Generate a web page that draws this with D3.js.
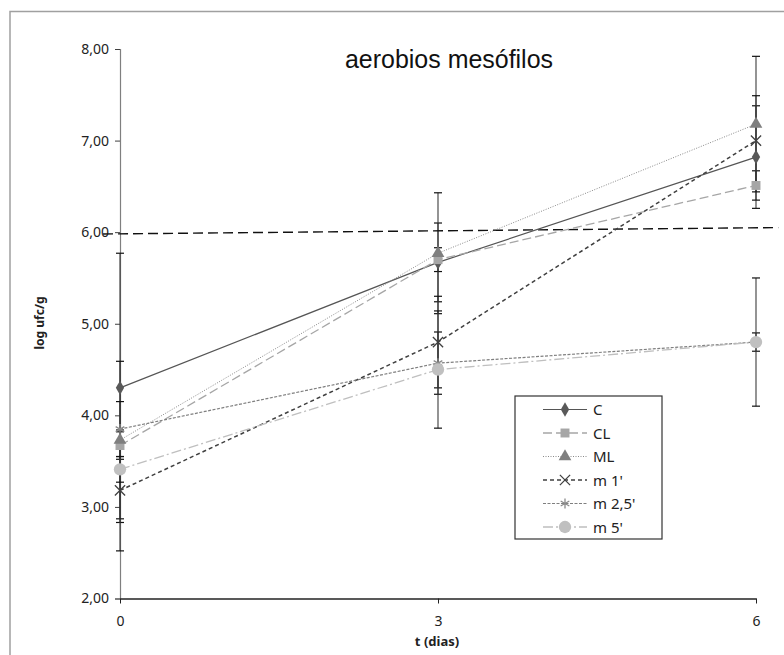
<!DOCTYPE html>
<html>
<head>
<meta charset="utf-8">
<script src="https://cdn.jsdelivr.net/npm/d3@7"></script>
<style>
  body { margin: 0; background: #fff; }
  svg { display: block; }
</style>
</head>
<body>
<script>
// days sampled
var days = [0, 3, 6]
var yTicks = [2, 3, 4, 5, 6, 7, 8]
var xTicks = [0, 3, 6]

// series means (log ufc/g) and error bar half-widths
var seriesNames = ["C", "CL", "ML", "m 1'", "m 2,5'", "m 5'"]
var valC   = [4.30, 5.67, 6.82]
var valCL  = [3.67, 5.70, 6.51]
var valML  = [3.73, 5.77, 7.18]
var valM1  = [3.18, 4.80, 7.00]
var valM25 = [3.85, 4.57, 4.80]
var valM5  = [3.41, 4.50, 4.80]

var errC   = [1.47, 0.43, 0.56]
var errCL  = [0.15, 0.13, 0.16]
var errML  = [0.86, 0.66, 0.74]
var errM1  = [0.66, 0.50, 0.49]
var errM25 = [0.30, 0.34, 0.10]
var errM5  = [0.14, 0.64, 0.70]

// the dashed reference line near 6 log
var refX = [-0.16, 6.21]
var refY = [5.98, 6.05]

var W = 784, H = 655

var svg = d3.select("body").append("svg")
    .attr("width", W)
    .attr("height", H)

// outer frame (right/bottom run off the picture)
svg.append("path")
    .attr("d", "M10,660 V11.5 H790")
    .attr("fill", "none")
    .attr("stroke", "#a0a0a0")
    .attr("stroke-width", 1.5)

var x = d3.scaleLinear().domain([0, 6]).range([120, 756])
var y = d3.scaleLinear().domain([2, 8]).range([598.5, 49])

var styles = [
  {name: seriesNames[0], v: valC,   e: errC,   stroke: "#555555", dash: null,      w: 1.2, mk: "diamond",  fill: "#595959", size: 60},
  {name: seriesNames[1], v: valCL,  e: errCL,  stroke: "#a6a6a6", dash: "9,4",     w: 1.3, mk: "square",   fill: "#a6a6a6", size: 80},
  {name: seriesNames[2], v: valML,  e: errML,  stroke: "#8a8a8a", dash: "1,1.5",   w: 1,   mk: "triangle", fill: "#7f7f7f", size: 70},
  {name: seriesNames[3], v: valM1,  e: errM1,  stroke: "#404040", dash: "4,3",     w: 1.5, mk: "x",        fill: "#404040", size: 70},
  {name: seriesNames[4], v: valM25, e: errM25, stroke: "#7f7f7f", dash: "3,1.5",   w: 1.2, mk: "star",     fill: "#8c8c8c", size: 70},
  {name: seriesNames[5], v: valM5,  e: errM5,  stroke: "#bfbfbf", dash: "10,3,2,3", w: 1.3, mk: "circle",  fill: "#c0c0c0", size: 120}
]

// y axis
var yAxis = svg.append("g")
    .attr("transform", "translate(120,0)")
    .call(d3.axisLeft(y).tickValues(yTicks).tickSize(5).tickPadding(6)
      .tickFormat(function(d) { return d3.format(".2f")(d).replace(".", ",") }))
yAxis.select(".domain").attr("stroke", "#7f7f7f").attr("stroke-width", 1.2)
yAxis.selectAll(".tick line").attr("stroke", "#404040")
yAxis.selectAll("text")
    .style("font-family", "'Noto Sans', sans-serif")
    .style("font-size", "14px")
    .attr("fill", "#222")

// error bars (drawn before the x axis so axis stays on top)
var errG = svg.append("g")
styles.forEach(function(s) {
  days.forEach(function(d, i) {
    var lo = y(s.v[i] - s.e[i]), hi = y(s.v[i] + s.e[i]), cx = x(d)
    errG.append("line").attr("x1", cx).attr("x2", cx).attr("y1", lo).attr("y2", hi)
        .attr("stroke", "#333").attr("stroke-width", 1.4).attr("stroke-opacity", 0.75)
    errG.append("line").attr("x1", cx - 4).attr("x2", cx + 4).attr("y1", lo).attr("y2", lo)
        .attr("stroke", "#111").attr("stroke-width", 1.2)
    errG.append("line").attr("x1", cx - 4).attr("x2", cx + 4).attr("y1", hi).attr("y2", hi)
        .attr("stroke", "#111").attr("stroke-width", 1.2)
  })
})

// x axis
var xAxis = svg.append("g")
    .attr("transform", "translate(0," + y(2) + ")")
    .call(d3.axisBottom(x).tickValues(xTicks).tickSize(5).tickPadding(13).tickSizeOuter(0)
      .tickFormat(d3.format("d")))
xAxis.select(".domain").attr("stroke", "#222").attr("stroke-width", 1.3)
xAxis.selectAll(".tick line").attr("stroke", "#222")
xAxis.selectAll("text")
    .style("font-family", "'Noto Sans', sans-serif")
    .style("font-size", "14px")
    .attr("fill", "#222")

// reference line
svg.append("line")
    .attr("x1", x(refX[0])).attr("x2", x(refX[1]))
    .attr("y1", y(refY[0])).attr("y2", y(refY[1]))
    .attr("stroke", "#111")
    .attr("stroke-width", 1.4)
    .attr("stroke-dasharray", "10,5")

var symbolFor = {
  diamond: d3.symbolDiamond, square: d3.symbolSquare, triangle: d3.symbolTriangle,
  x: d3.symbolTimes, star: d3.symbolAsterisk, circle: d3.symbolCircle
}

function drawMarker(g, s, cx, cy) {
  var crossy = (s.mk === "x" || s.mk === "star")
  g.append("path")
      .attr("transform", "translate(" + cx + "," + cy + ")")
      .attr("d", d3.symbol().type(symbolFor[s.mk]).size(s.size)())
      .attr("fill", crossy ? "none" : s.fill)
      .attr("stroke", crossy ? s.fill : "none")
      .attr("stroke-width", 1.3)
}

var line = d3.line().x(function(d, i) { return x(days[i]) }).y(function(d) { return y(d) })

styles.forEach(function(s) {
  var g = svg.append("g")
  g.append("path")
      .datum(s.v)
      .attr("d", line)
      .attr("fill", "none")
      .attr("stroke", s.stroke)
      .attr("stroke-width", s.w)
      .attr("stroke-dasharray", s.dash)
  s.v.forEach(function(v, i) { drawMarker(g, s, x(days[i]), y(v)) })
})

// title and axis titles
svg.append("text")
    .attr("x", 449).attr("y", 68)
    .attr("text-anchor", "middle")
    .attr("textLength", 208)
    .attr("lengthAdjust", "spacingAndGlyphs")
    .style("font-family", "'Liberation Sans', sans-serif")
    .style("font-size", "25px")
    .attr("fill", "#111")
    .text("aerobios mesófilos")

svg.append("text")
    .attr("transform", "translate(44,323) rotate(-90)")
    .attr("text-anchor", "middle")
    .style("font-family", "'Noto Sans', sans-serif")
    .style("font-size", "12px")
    .style("font-weight", "bold")
    .attr("fill", "#222")
    .text("log ufc/g")

svg.append("text")
    .attr("x", 437).attr("y", 646)
    .attr("text-anchor", "middle")
    .style("font-family", "'Noto Sans', sans-serif")
    .style("font-size", "13px")
    .style("font-weight", "bold")
    .attr("fill", "#222")
    .text("t (dias)")

// legend
var lg = svg.append("g").attr("transform", "translate(515,396)")
lg.append("rect")
    .attr("width", 147).attr("height", 143)
    .attr("fill", "#fff")
    .attr("stroke", "#333")
    .attr("stroke-width", 1.2)

styles.forEach(function(s, i) {
  var yy = 13.5 + i * 23.5
  lg.append("line")
      .attr("x1", 28).attr("x2", 72).attr("y1", yy).attr("y2", yy)
      .attr("stroke", s.stroke).attr("stroke-width", s.w)
      .attr("stroke-dasharray", s.dash)
  drawMarker(lg, s, 50, yy)
  lg.append("text")
      .attr("x", 78).attr("y", yy + 5.5)
      .style("font-family", "'Noto Sans', sans-serif")
      .style("font-size", "15px")
      .attr("fill", "#222")
      .text(s.name)
})
</script>
</body>
</html>
